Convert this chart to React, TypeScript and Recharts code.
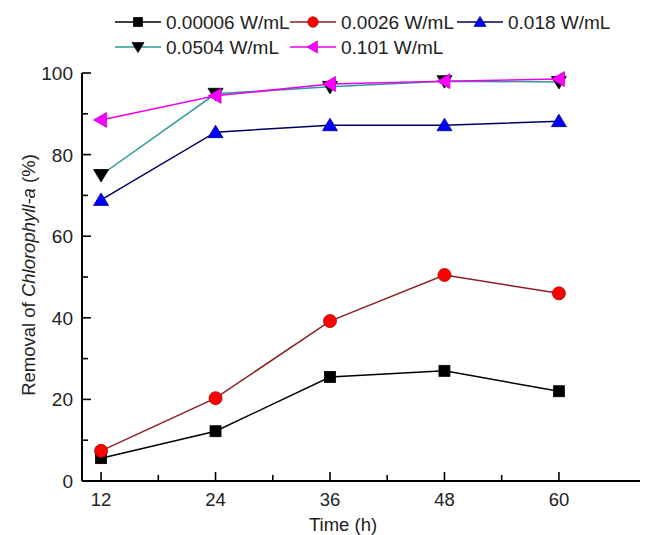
import { LineChart, Line, XAxis, YAxis } from 'recharts'

const times = [12, 24, 36, 48, 60]
const p00006 = [5.6, 12.2, 25.5, 27, 22]
const p0026 = [7.4, 20.3, 39.2, 50.5, 46]
const p018 = [68.9, 85.5, 87.2, 87.2, 88.2]
const p0504 = [75, 94.9, 96.6, 98, 97.8]
const p101 = [88.5, 94.4, 97.3, 98, 98.5]

const xTicks = [12, 18, 24, 30, 36, 42, 48, 54, 60]
const xLabelTicks = [12, 24, 36, 48, 60]
const yTicks = [0, 10, 20, 30, 40, 50, 60, 70, 80, 90, 100]
const yLabelTicks = [0, 20, 40, 60, 80, 100]

type Shape = 'square' | 'circle' | 'up' | 'down' | 'left'

interface Series {
  key: string
  name: string
  values: number[]
  fill: string
  edge: string
  line: string
  shape: Shape
}

const series: Series[] = [
  { key: 's1', name: '0.00006 W/mL', values: p00006, fill: '#000000', edge: '#000000', line: '#000000', shape: 'square' },
  { key: 's2', name: '0.0026 W/mL', values: p0026, fill: '#ff0000', edge: '#b00000', line: '#8b2020', shape: 'circle' },
  { key: 's3', name: '0.018 W/mL', values: p018, fill: '#0000ff', edge: '#000080', line: '#000060', shape: 'up' },
  { key: 's4', name: '0.0504 W/mL', values: p0504, fill: '#000000', edge: '#000000', line: '#2a9a9a', shape: 'down' },
  { key: 's5', name: '0.101 W/mL', values: p101, fill: '#ff00ff', edge: '#cc00cc', line: '#ee00ee', shape: 'left' },
]

const data = times.map((t, i) => {
  const row: Record<string, number> = { time: t }
  series.forEach((s) => {
    row[s.key] = s.values[i]
  })
  return row
})

const FONT = '"Liberation Sans", Arial, Helvetica, sans-serif'

function Marker({ cx, cy, shape, fill, edge, k = 1 }: { cx: number; cy: number; shape: Shape; fill: string; edge: string; k?: number }) {
  if (shape === 'square') {
    const h = 5.5 * k
    return <rect x={cx - h} y={cy - h} width={2 * h} height={2 * h} fill={fill} stroke={edge} strokeWidth={0.8} />
  }
  if (shape === 'circle') {
    return <circle cx={cx} cy={cy} r={6.5 * k} fill={fill} stroke={edge} strokeWidth={0.8} />
  }
  const a = 7 * k
  const b = 5.5 * k
  const w = 7.5 * k
  let pts = ''
  if (shape === 'up') pts = `${cx},${cy - a} ${cx - w},${cy + b} ${cx + w},${cy + b}`
  if (shape === 'down') pts = `${cx},${cy + a} ${cx - w},${cy - b} ${cx + w},${cy - b}`
  if (shape === 'left') pts = `${cx - w},${cy} ${cx + b},${cy - w} ${cx + b},${cy + w}`
  return <polygon points={pts} fill={fill} stroke={edge} strokeWidth={0.8} />
}

function XTick(props: { x?: number; y?: number; payload?: { value: number } }) {
  const { x = 0, y = 0, payload } = props
  const v = payload?.value ?? 0
  const major = xLabelTicks.includes(v)
  return (
    <g>
      <line x1={x} x2={x} y1={y} y2={y - (major ? 9 : 6)} stroke="#000" strokeWidth={1.6} />
      {major && (
        <text x={x} y={y + 25} textAnchor="middle" fontSize={18.5} fill="#222" fontFamily={FONT}>
          {v}
        </text>
      )}
    </g>
  )
}

function YTick(props: { x?: number; y?: number; payload?: { value: number } }) {
  const { x = 0, y = 0, payload } = props
  const v = payload?.value ?? 0
  const major = yLabelTicks.includes(v)
  return (
    <g>
      <line x1={x} x2={x + (major ? 9 : 6)} y1={y} y2={y} stroke="#000" strokeWidth={1.6} />
      {major && (
        <text x={x - 9} y={y + 7} textAnchor="end" fontSize={19} fill="#222" fontFamily={FONT}>
          {v}
        </text>
      )}
    </g>
  )
}

function LegendOverlay() {
  const rows = [
    [{ s: series[0], x: 115 }, { s: series[1], x: 290 }, { s: series[2], x: 457 }],
    [{ s: series[3], x: 115 }, { s: series[4], x: 290 }],
  ]
  const rowY = [22, 47]
  return (
    <svg width={645} height={60} style={{ position: 'absolute', left: 0, top: 0, pointerEvents: 'none' }}>
      {rows.map((row, ri) =>
        row.map(({ s, x }) => (
          <g key={s.key}>
            <line x1={x} x2={x + 46} y1={rowY[ri]} y2={rowY[ri]} stroke={s.line} strokeWidth={1.5} />
            <Marker cx={x + 23} cy={rowY[ri]} shape={s.shape} fill={s.fill} edge={s.edge} k={0.8} />
            <text x={x + 51} y={rowY[ri] + 7} fontSize={19} fill="#222" fontFamily={FONT}>
              {s.name}
            </text>
          </g>
        )),
      )}
    </svg>
  )
}

export default function App() {
  return (
    <div style={{ position: 'absolute', left: 0, top: 0, width: 645, height: 535, background: '#fff' }}>
      <LineChart width={645} height={535} data={data} margin={{ top: 73, right: 5, bottom: 0, left: 0 }}>
        <XAxis
          dataKey="time"
          type="number"
          domain={[10, 68.5]}
          ticks={xTicks}
          interval={0}
          height={54}
          tickSize={0}
          tickMargin={0}
          tickLine={false}
          axisLine={{ stroke: '#000', strokeWidth: 2 }}
          tick={<XTick />}
          label={{
            content: () => (
              <text x={343} y={531} textAnchor="middle" fontSize={18.5} fill="#222" fontFamily={FONT}>
                Time (h)
              </text>
            ),
          }}
        />
        <YAxis
          type="number"
          domain={[0, 100]}
          ticks={yTicks}
          interval={0}
          width={82}
          tickSize={0}
          tickMargin={0}
          tickLine={false}
          axisLine={{ stroke: '#000', strokeWidth: 2 }}
          tick={<YTick />}
          label={{
            content: () => (
              <text
                x={0}
                y={0}
                transform="translate(35 275) rotate(-90)"
                textAnchor="middle"
                fontSize={18.5}
                fill="#222"
                fontFamily={FONT}
              >
                Removal of <tspan fontStyle="italic">Chlorophyll-a</tspan> (%)
              </text>
            ),
          }}
        />
        {series.map((s) => (
          <Line
            key={s.key}
            type="linear"
            dataKey={s.key}
            name={s.name}
            stroke={s.line}
            strokeWidth={1.5}
            isAnimationActive={false}
            dot={(p: { cx?: number; cy?: number; index?: number }) => (
              <Marker key={`${s.key}-${p.index}`} cx={p.cx ?? 0} cy={p.cy ?? 0} shape={s.shape} fill={s.fill} edge={s.edge} />
            )}
            activeDot={false}
          />
        ))}
      </LineChart>
      <LegendOverlay />
    </div>
  )
}
